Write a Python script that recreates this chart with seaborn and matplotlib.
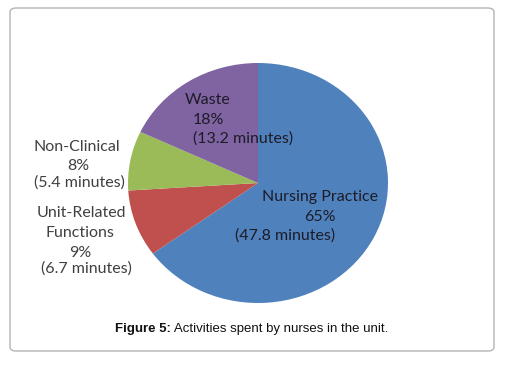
import matplotlib
matplotlib.use("Agg")
import matplotlib.pyplot as plt
import seaborn as sns
from matplotlib.patches import FancyBboxPatch

# ---- data ----
categories = ["Nursing Practice", "Unit-Related\nFunctions", "Non-Clinical", "Waste"]
percentages = [65, 9, 8, 18]
minutes = [47.8, 6.7, 5.4, 13.2]
colors = ["#4F81BD", "#C0504D", "#9BBB59", "#8064A2"]
caption_bold = "Figure 5:"
caption_rest = " Activities spent by nurses in the unit."

sns.set_theme(style="white")
plt.rcParams["font.family"] = ["Lato", "DejaVu Sans"]

W, H = 506, 368
fig = plt.figure(figsize=(W / 100, H / 100), dpi=100)
fig.patch.set_facecolor("white")

def fx(px):
    return px / W

def fy(py):
    return 1 - py / H

# rounded frame (behind everything)
frame = FancyBboxPatch((fx(10), fy(351)), fx(484), 343 / H,
                       boxstyle="round,pad=0,rounding_size=0.012",
                       transform=fig.transFigure, facecolor="white",
                       edgecolor="#b4b4b4", linewidth=1.0, zorder=-10)
fig.patches.append(frame)

# pie axes (slightly wider than tall, as in reference)
cx, cy, rx, ry = 258, 183, 130, 120
ax = fig.add_axes([fx(cx - rx), fy(cy + ry), 2 * rx / W, 2 * ry / H])
ax.patch.set_alpha(0)
ax.pie(percentages, colors=colors, startangle=90, counterclock=False,
       radius=1.0, wedgeprops=dict(linewidth=0))
ax.set_aspect("auto")
ax.set_xlim(-1, 1)
ax.set_ylim(-1, 1)
ax.axis("off")

fs = 11.5
dark = "#1c1c28"
gray = "#404040"

def lab(x, y, s, c):
    fig.text(fx(x), fy(y), s, ha="center", va="center", fontsize=fs, color=c,
             zorder=5)

# Waste
lab(208, 100, "Waste", dark)
lab(208, 120, f"{percentages[3]}%", dark)
lab(243, 139, f"({minutes[3]} minutes)", dark)
# Non-Clinical
lab(77, 147, categories[2], gray)
lab(78, 166, f"{percentages[2]}%", gray)
lab(79, 183, f"({minutes[2]} minutes)", gray)
# Unit-Related Functions
l1, l2 = categories[1].split("\n")
lab(81, 213, l1, gray)
lab(80, 233, l2, gray)
lab(80, 253, f"{percentages[1]}%", gray)
lab(86, 269, f"({minutes[1]} minutes)", gray)
# Nursing Practice
lab(320, 197, categories[0], dark)
lab(320, 217, f"{percentages[0]}%", dark)
lab(285, 236, f"({minutes[0]} minutes)", dark)

# caption
t1 = fig.text(fx(115), fy(329), caption_bold, ha="left", va="center",
              fontsize=9.5, fontweight="bold", family=["Liberation Sans", "DejaVu Sans"],
              color="#111111")
fig.canvas.draw()
bb = t1.get_window_extent()
fig.text(bb.x1 / W, fy(329), caption_rest, ha="left", va="center",
         fontsize=9.5, family=["Liberation Sans", "DejaVu Sans"], color="#111111")

fig.savefig("out.png", dpi=100, facecolor="white")
